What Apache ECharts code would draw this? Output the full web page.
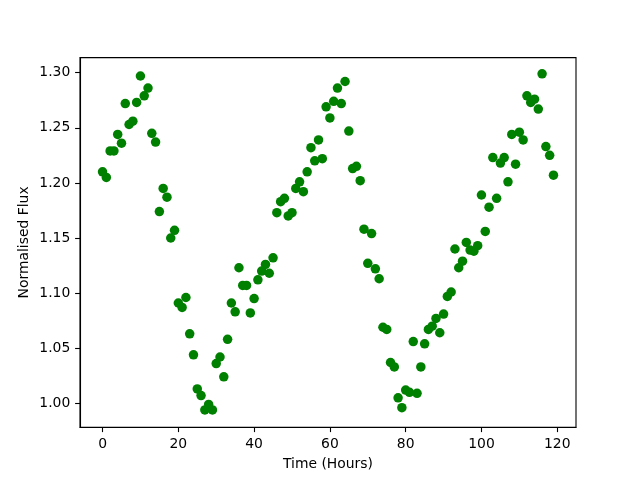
<!DOCTYPE html>
<html>
<head>
<meta charset="utf-8">
<script src="https://cdn.jsdelivr.net/npm/echarts@6/dist/echarts.min.js"></script>
<style>html,body{margin:0;padding:0;background:#fff}#c{width:640px;height:480px}</style>
</head>
<body>
<div id="c"></div>
<script>
const hours = [0,1,2,3,4,5,6,7,8,9,10,11,12,13,14,15,16,17,18,19,20,21,22,23,24,25,26,27,28,29,
30,31,32,33,34,35,36,37,38,39,40,41,42,43,44,45,46,47,48,49,50,51,52,53,54,55,56,57,58,59,
60,61,62,63,64,65,66,67,68,69,70,71,72,73,74,75,76,77,78,79,80,81,82,83,84,85,86,87,88,89,
90,91,92,93,94,95,96,97,98,99,100,101,102,103,104,105,106,107,108,109,110,111,112,113,114,115,116,117,118,119];
const flux = [1.210,1.205,1.229,1.229,1.244,1.236,1.272,1.253,1.256,1.273,
1.297,1.279,1.286,1.245,1.237,1.174,1.195,1.187,1.150,1.157,
1.091,1.087,1.096,1.063,1.044,1.013,1.007,0.994,0.999,0.994,
1.036,1.042,1.024,1.058,1.091,1.083,1.123,1.107,1.107,1.082,
1.095,1.112,1.120,1.126,1.118,1.132,1.173,1.183,1.186,1.170,
1.173,1.195,1.201,1.192,1.210,1.232,1.220,1.239,1.222,1.269,
1.259,1.274,1.286,1.272,1.292,1.247,1.213,1.215,1.202,1.158,
1.127,1.154,1.122,1.113,1.069,1.067,1.037,1.033,1.005,0.996,
1.012,1.010,1.056,1.009,1.033,1.054,1.067,1.070,1.077,1.064,
1.081,1.097,1.101,1.140,1.123,1.129,1.146,1.139,1.138,1.143,
1.189,1.156,1.178,1.223,1.186,1.218,1.223,1.201,1.244,1.217,
1.246,1.239,1.279,1.273,1.276,1.267,1.299,1.233,1.225,1.207];
const xTicks = [0,20,40,60,80,100,120];
const yTicks = [1.00,1.05,1.10,1.15,1.20,1.25,1.30];
const xTitle = 'Time (Hours)';
const yTitle = 'Normalised Flux';

const font = 'DejaVu Sans';
const chart = echarts.init(document.getElementById('c'), null, {renderer:'canvas'});
const pts = hours.map((h,i)=>[h, flux[i]]);
chart.setOption({
  animation:false,
  backgroundColor:'#fff',
  grid:{left:80, right:64, top:57.6, bottom:52.8, show:true, borderColor:'#000', borderWidth:1.1, containLabel:false},
  xAxis:{
    type:'value', min:-5.95, max:124.95,
    name:xTitle, nameLocation:'middle', nameGap:30, nameMoveOverlap:false,
    nameTextStyle:{fontFamily:font, fontSize:13.9, color:'#000'},
    axisLine:{show:true, onZero:false, lineStyle:{color:'#000', width:1.1}},
    axisTick:{show:true, length:4.9, lineStyle:{color:'#000', width:1.1}, customValues:xTicks},
    axisLabel:{fontFamily:font, fontSize:13.9, color:'#000', margin:10, customValues:xTicks, formatter:v=>String(v)},
    splitLine:{show:false}
  },
  yAxis:{
    type:'value', min:0.9783, max:1.3137,
    name:yTitle, nameLocation:'middle', nameGap:49, nameRotate:90, nameMoveOverlap:false,
    nameTextStyle:{fontFamily:font, fontSize:13.9, color:'#000'},
    axisLine:{show:true, onZero:false, lineStyle:{color:'#000', width:1.1}},
    axisTick:{show:true, length:4.9, lineStyle:{color:'#000', width:1.1}, customValues:yTicks},
    axisLabel:{fontFamily:font, fontSize:13.9, color:'#000', margin:9.7, customValues:yTicks, formatter:v=>v.toFixed(2)},
    splitLine:{show:false}
  },
  series:[{
    type:'scatter', data:pts, symbol:'circle', symbolSize:9.5,
    itemStyle:{color:'#008000', opacity:1}
  }]
});
</script>
</body>
</html>
